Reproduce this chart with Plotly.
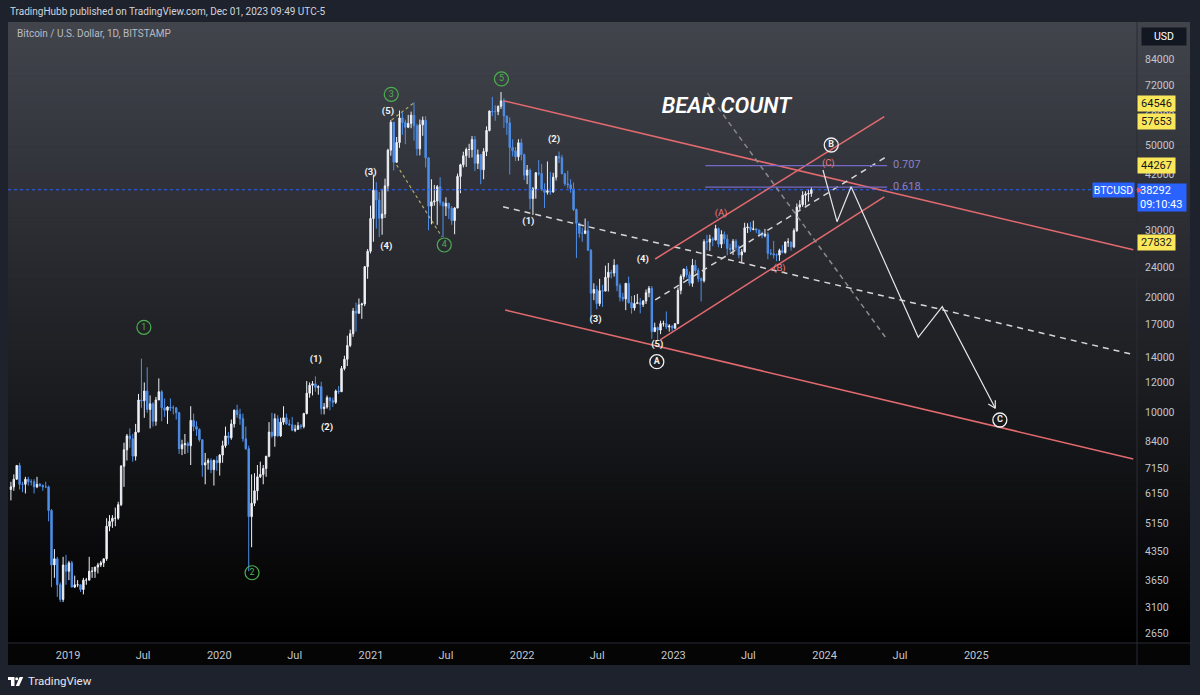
import numpy as np
import pandas as pd
import plotly.graph_objects as go

# ---------------- data (weekly candles) ----------------
week_center_start = "2018-08-16"
first_open = 6300

close_2018 = [6400, 6700, 7280, 6500, 6500, 6700, 6600, 6600, 6400, 6500, 6450, 6400, 6400, 5550, 4000, 4150, 3550, 3250, 4000, 3850, 4050]
high_2018 = [6600, 6900, 7300, 7400, 6600, 6800, 6800, 6700, 6700, 6800, 6550, 6500, 6600, 6450, 5600, 4400, 4200, 3600, 4200, 4250, 4100]
low_2018 = [5900, 6250, 6700, 6300, 6200, 6150, 6450, 6450, 6150, 6350, 6400, 6250, 6350, 5200, 3500, 3700, 3300, 3200, 3200, 3550, 3650]

close_2019 = [3500, 3550, 3550, 3450, 3650, 3650, 3850, 3850, 3950, 4000, 4050, 4150, 5050, 5200, 5300, 5300, 5750, 7250, 8000, 8700,
              8550, 7700, 8900, 10800, 10750, 11400, 10200, 10550, 9500, 10800, 11350, 10300, 10150, 10350, 10300, 10300, 10000, 8050, 8250, 8300,
              8200, 9550, 9200, 9050, 8500, 7300, 7400, 7500, 7100, 7500, 7400, 7750]
high_2019 = [4100, 3750, 3650, 3550, 3700, 3700, 4200, 3950, 3950, 4050, 4100, 4150, 5300, 5400, 5400, 5650, 5850, 7300, 8350, 8800,
             9100, 8800, 9350, 11200, 13850, 12000, 13150, 11100, 10650, 11000, 12300, 11450, 10900, 10400, 10900, 10450, 10350, 10050, 8500, 8800,
             8400, 10400, 9950, 9500, 9100, 8500, 7850, 7600, 7600, 7550, 7700, 7800]
low_2019 = [3500, 3480, 3500, 3400, 3350, 3550, 3650, 3700, 3700, 3800, 3950, 3950, 4100, 4900, 5000, 5050, 5250, 5700, 6400, 7500,
            8100, 7450, 7500, 8900, 10300, 9700, 10000, 9100, 9200, 9250, 10800, 9500, 9750, 9350, 10100, 9900, 9600, 7800, 7750, 7800,
            7850, 7300, 8950, 8700, 8400, 6800, 6500, 7100, 6950, 6450, 7050, 6850]

close_2020 = [8200, 8700, 8600, 9350, 10150, 9900, 9650, 8550, 8050, 5350, 5800, 6250, 6800, 6900, 7150, 7700, 8900, 8700, 9650, 8700,
              9450, 9700, 9350, 9300, 9000, 9050, 9250, 9200, 9950, 11250, 11800, 11900, 11650, 11700, 10250, 10350, 10950, 10750, 10650, 11400,
              11350, 13050, 13800, 15000, 16100, 18450, 18200, 19150, 19250, 24100, 26450, 32200]
high_2020 = [8450, 9200, 8900, 9600, 10200, 10500, 10250, 9950, 9200, 8200, 6900, 6950, 7300, 7450, 7300, 7700, 9450, 10000, 9950, 9850,
             9700, 10400, 9950, 9600, 9750, 9300, 9450, 9350, 10000, 12100, 12000, 12100, 12450, 11800, 12050, 10600, 11100, 10950, 10950, 11500,
             11750, 13250, 14100, 15900, 16500, 18800, 19400, 19900, 19400, 24200, 26800, 34800]
low_2020 = [7400, 8100, 8250, 8500, 9150, 9700, 9300, 8400, 8000, 3850, 4450, 5700, 5900, 6750, 6500, 6800, 7650, 8600, 8150, 8650,
            8650, 9300, 9300, 9250, 8950, 8900, 9050, 9050, 9100, 9900, 10950, 11100, 11350, 11150, 9900, 9900, 10250, 10150, 10350, 10550,
            11200, 11350, 12900, 13250, 14850, 15800, 16300, 18200, 17600, 19000, 22400, 26100]

close_2021 = [38200, 36000, 32250, 33100, 39200, 48600, 57500, 45200, 50900, 59000, 57400, 55800, 57100, 60000, 56200, 49000, 56600, 58200, 46400, 34700,
              35600, 35800, 39000, 35500, 34700, 35300, 34250, 31800, 34300, 41500, 44500, 47000, 48800, 48800, 51800, 44900, 47300, 43200, 48200, 54700,
              61500, 61300, 61300, 63300, 65400, 59700, 57300, 49400, 48400, 46700, 50800, 47300]
high_2021 = [41950, 40100, 37800, 38500, 40950, 49000, 58300, 57500, 52600, 61700, 61000, 58400, 60100, 61300, 64850, 57000, 58450, 59500, 59600, 46600,
             40800, 39400, 39400, 41300, 35700, 36600, 35400, 34700, 34500, 42200, 44800, 48150, 49350, 50500, 52900, 52950, 48800, 47400, 49200, 56100,
             61700, 67000, 63700, 63600, 69000, 66400, 59800, 59200, 51900, 49500, 51900, 52100]
low_2021 = [28000, 30300, 28800, 29200, 32300, 37950, 47000, 43000, 45000, 49300, 53300, 50400, 55500, 55450, 51500, 47000, 47100, 53000, 43800, 30000,
            31100, 34800, 31000, 34800, 28800, 32700, 32100, 31000, 29300, 34300, 37500, 43800, 43950, 46400, 46500, 42900, 43400, 39600, 40800, 46900,
            54400, 59700, 58000, 60000, 62300, 55600, 53300, 42000, 46800, 45500, 45600, 45700]

close_2022 = [41800, 43100, 36300, 38500, 42400, 42200, 38400, 37700, 38050, 37800, 41300, 46800, 46400, 42150, 39700, 39450, 38500, 34000, 31300, 29450,
              29450, 29900, 26600, 20550, 21000, 19300, 20850, 20800, 22600, 23300, 23200, 24300, 21500, 20050, 19850, 21800, 19400, 18800, 19300, 19400,
              19200, 19600, 20600, 21150, 16300, 16700, 16450, 17100, 17100, 16750, 16850, 16650]
high_2022 = [47600, 44450, 43500, 38900, 42600, 45800, 44750, 39800, 45400, 42600, 42400, 47000, 48200, 47200, 42400, 42950, 40800, 40000, 34200, 31400,
             30500, 32200, 31700, 26800, 21800, 21500, 22400, 21600, 24250, 24650, 23650, 25200, 24450, 21800, 20600, 21800, 22700, 20200, 20300, 20450,
             19950, 19700, 21000, 21450, 21450, 17200, 16800, 17400, 17400, 18400, 17050, 16950]
low_2022 = [40600, 39600, 34000, 32900, 36300, 41700, 38000, 34300, 37200, 37150, 37600, 40500, 45000, 42100, 39200, 38600, 37600, 33700, 25400, 28700,
            28000, 29300, 26500, 17600, 19700, 18650, 19000, 18900, 20800, 20750, 22450, 22700, 20800, 19550, 19550, 18550, 19300, 18150, 18500, 19300,
            18200, 18900, 19250, 20050, 15600, 16300, 15450, 16050, 16800, 16550, 16300, 16350]

close_2023 = [17100, 20900, 22700, 23750, 22950, 21800, 24300, 23550, 22400, 22150, 28000, 27950, 28450, 28300, 30300, 27600, 29250, 28450, 26900, 26750,
              28100, 27100, 25850, 26350, 30450, 30600, 30150, 30250, 30050, 29300, 29050, 29300, 26100, 26050, 25850, 25850, 26550, 26250, 27950, 27950,
              27150, 29950, 34500, 35000, 37050, 37350, 37450, 38292]
high_2023 = [17150, 21250, 23000, 23800, 24200, 23400, 25250, 25100, 23900, 22600, 28400, 29200, 29200, 28800, 31000, 30500, 30000, 29800, 29250, 27650,
             28450, 28450, 27400, 26800, 31400, 31300, 31500, 31800, 30400, 30100, 29750, 30250, 29650, 26800, 28150, 26100, 26850, 27450, 28050, 28600,
             28000, 30350, 35250, 35950, 37950, 37950, 38400, 38950]
low_2023 = [16550, 17100, 20400, 22300, 22550, 21450, 21350, 23150, 21950, 19550, 21900, 26600, 26500, 27250, 28200, 27100, 26950, 27650, 25800, 26350,
            25850, 26550, 25350, 24800, 26250, 29500, 29700, 30000, 29500, 28850, 28600, 28750, 25200, 25800, 25300, 24900, 24950, 26100, 26050, 27150,
            26550, 26950, 29700, 33950, 34550, 34800, 35650, 36700]

last_price = 38292
last_price_time = "09:10:43"

# price-axis tick labels and x-axis tick labels
y_tickvals = [84000, 72000, 60000, 50000, 42000, 30000, 24000, 20000, 17000, 14000, 12000, 10000,
              8400, 7150, 6150, 5150, 4350, 3650, 3100, 2650]
x_tickvals = ["2019-01-01", "2019-07-01", "2020-01-01", "2020-07-01", "2021-01-01", "2021-07-01", "2022-01-01",
              "2022-07-01", "2023-01-01", "2023-07-01", "2024-01-01", "2024-07-01", "2025-01-01"]
x_ticktext = ["2019", "Jul", "2020", "Jul", "2021", "Jul", "2022", "Jul", "2023", "Jul", "2024", "Jul", "2025"]
axis_labels = [64546, 57653, 44267, 27832]

# ---------------- drawings (date, price) ----------------
down_upper_dates, down_upper_prices = ["2021-11-16", "2026-01-15"], [65470, 26700]
down_lower_dates, down_lower_prices = ["2021-11-21", "2026-01-15"], [18565, 7570]
down_mid_dates, down_mid_prices = ["2021-11-16", "2026-01-10"], [34560, 14240]
up_upper_dates, up_upper_prices = ["2022-11-18", "2024-05-24"], [25240, 59460]
up_lower_dates, up_lower_prices = ["2022-11-30", "2024-05-24"], [15500, 36660]
up_mid_dates, up_mid_prices = ["2022-11-18", "2024-05-28"], [19720, 46650]
steep_dates, steep_prices = ["2023-03-24", "2024-05-28"], [68580, 15690]
fib_dates = ["2023-03-19", "2024-05-31"]
fib_levels = [44267, 38900]
fib_names = ["0.707", "0.618"]
fib_label_date = "2024-06-14"
path_dates = ["2023-12-28", "2024-01-31", "2024-03-05", "2024-08-14", "2024-10-11", "2025-02-16"]
path_prices = [43130, 31600, 39000, 15750, 18940, 10270]
arrow_dates = ["2025-01-30", "2025-02-16", "2025-02-16"]
arrow_prices = [10540, 10270, 10780]
olive1_dates, olive1_prices = ["2021-03-04", "2021-06-21"], [44450, 28870]
olive2_dates, olive2_prices = ["2021-02-20", "2021-04-13"], [58300, 64450]

green_dates = ["2019-07-03", "2020-03-20", "2021-02-19", "2021-06-27", "2021-11-12"]
green_prices = [16730, 3816, 68040, 27460, 74620]
green_text = ["1", "2", "3", "4", "5"]
sub_dates = ["2020-08-21", "2020-09-17", "2020-12-31", "2021-02-07", "2021-02-11",
             "2022-01-16", "2022-03-19", "2022-06-27", "2022-10-19", "2022-11-23"]
sub_prices = [13800, 9140, 42430, 27190, 61160, 31600, 51680, 17480, 25190, 15040]
sub_text = ["(1)", "(2)", "(3)", "(4)", "(5)", "(1)", "(2)", "(3)", "(4)", "(5)"]
abc_dates = ["2022-11-22", "2024-01-17", "2025-02-27"]
abc_prices = [13600, 50140, 9574]
abc_text = ["A", "B", "C"]
red_dates = ["2023-04-26", "2023-09-14", "2024-01-10"]
red_prices = [33100, 23870, 44900]
red_text = ["(A)", "(B)", "(C)"]
title_date, title_price = "2023-05-09", 62910

# ---------------- build ----------------
closes = close_2018 + close_2019 + close_2020 + close_2021 + close_2022 + close_2023
highs = high_2018 + high_2019 + high_2020 + high_2021 + high_2022 + high_2023
lows = low_2018 + low_2019 + low_2020 + low_2021 + low_2022 + low_2023
opens = [first_open] + closes[:-1]
dates = pd.date_range(week_center_start, periods=len(closes), freq="7D")

FONT = "Roboto, 'Open Sans', sans-serif"
UP = "#eef1f7"
DOWN = "#4f8fe8"
RED = "#e26a6f"
GREEN = "#4caf50"
TICK = "#c3c6ce"

L, R, T, B = 8, 1137, 22, 643
X_RANGE = ["2018-08-09", "2026-01-24"]
Y_RANGE = [3.3979, 5.0218]


def pxx(px):
    return (px - L) / (R - L)


def pxy(py):
    return (B - py) / (B - T)


fig = go.Figure()

fig.add_trace(go.Candlestick(
    x=dates, open=opens, high=highs, low=lows, close=closes,
    increasing=dict(line=dict(color=UP, width=1), fillcolor=UP),
    decreasing=dict(line=dict(color=DOWN, width=1), fillcolor=DOWN),
    whiskerwidth=0, hoverinfo="skip", showlegend=False))


def add_line(xs, ys, color, width=1.4, dash="solid"):
    fig.add_trace(go.Scatter(x=xs, y=ys, mode="lines", line=dict(color=color, width=width, dash=dash),
                             hoverinfo="skip", showlegend=False))


# current price dotted line
add_line(X_RANGE, [last_price, last_price], "#2962ff", 1, "dot")
add_line(olive1_dates, olive1_prices, "rgba(200,192,110,0.85)", 1.2, "dot")
add_line(olive2_dates, olive2_prices, "rgba(200,192,110,0.85)", 1.2, "dot")
add_line(down_upper_dates, down_upper_prices, RED, 1.5)
add_line(down_lower_dates, down_lower_prices, RED, 1.5)
add_line(down_mid_dates, down_mid_prices, "#d6d6d6", 1.5, "6px,5px")
add_line(up_upper_dates, up_upper_prices, RED, 1.5)
add_line(up_lower_dates, up_lower_prices, RED, 1.5)
add_line(up_mid_dates, up_mid_prices, "#d6d6d6", 1.5, "6px,5px")
add_line(steep_dates, steep_prices, "#8a8a8a", 1.5, "5px,4px")
for lvl in fib_levels:
    add_line(fib_dates, [lvl, lvl], "#7468c8", 1.3)
add_line(path_dates, path_prices, "#e6e6e6", 1.2)
add_line(arrow_dates, arrow_prices, "#e6e6e6", 1.2)

fig.add_trace(go.Scatter(x=[fib_label_date] * 2, y=fib_levels, mode="text", text=fib_names,
                         textposition="middle right", textfont=dict(family=FONT, size=11, color="#8b80c9"),
                         hoverinfo="skip", showlegend=False))

fig.add_trace(go.Scatter(x=green_dates, y=green_prices, mode="markers+text", text=green_text,
                         textposition="middle center",
                         marker=dict(symbol="circle-open", size=14, color=GREEN, line=dict(width=1.2, color=GREEN)),
                         textfont=dict(family=FONT, size=9, color=GREEN),
                         hoverinfo="skip", showlegend=False))
fig.add_trace(go.Scatter(x=abc_dates, y=abc_prices, mode="markers+text", text=abc_text,
                         textposition="middle center",
                         marker=dict(symbol="circle-open", size=14, color="#f0f0f0", line=dict(width=1.3, color="#f0f0f0")),
                         textfont=dict(family=FONT, size=9, color="#f0f0f0", weight="bold"),
                         hoverinfo="skip", showlegend=False))
fig.add_trace(go.Scatter(x=sub_dates, y=sub_prices, mode="text", text=sub_text, textposition="middle center",
                         textfont=dict(family=FONT, size=9.5, color="#f2f2f2", weight="bold"),
                         hoverinfo="skip", showlegend=False))
fig.add_trace(go.Scatter(x=red_dates, y=red_prices, mode="text", text=red_text, textposition="middle center",
                         textfont=dict(family=FONT, size=9.5, color="#ef7a7e"),
                         hoverinfo="skip", showlegend=False))
fig.add_trace(go.Scatter(x=[title_date], y=[title_price], mode="text", text=["BEAR COUNT"],
                         textposition="middle center",
                         textfont=dict(family=FONT, size=22, color="#ffffff", weight=600, style="italic"),
                         hoverinfo="skip", showlegend=False))

# ---------------- background, frames ----------------
shapes = []
top_c = np.array([66, 68, 77])
bot_c = np.array([0, 0, 0])
N = 70
for i in range(N):
    y0 = T + i * (B - T) / N
    y1 = T + (i + 1) * (B - T) / N + 0.6
    c = top_c * (1 - (i + 0.5) / N) + bot_c * ((i + 0.5) / N)
    shapes.append(dict(type="rect", xref="paper", yref="paper", x0=pxx(8), x1=pxx(1190),
                       y0=pxy(min(y1, B)), y1=pxy(y0), line=dict(width=0),
                       fillcolor="rgb(%d,%d,%d)" % tuple(c.round().astype(int)), layer="below"))
shapes.append(dict(type="rect", xref="paper", yref="paper", x0=pxx(8), x1=pxx(1190), y0=pxy(665), y1=pxy(643),
                   line=dict(width=0), fillcolor="#050505", layer="below"))
shapes.append(dict(type="line", xref="paper", yref="paper", x0=pxx(1137), x1=pxx(1137), y0=pxy(665), y1=pxy(22),
                   line=dict(color="#2a2d36", width=1), layer="below"))
shapes.append(dict(type="line", xref="paper", yref="paper", x0=pxx(8), x1=pxx(1190), y0=pxy(643), y1=pxy(643),
                   line=dict(color="#2a2d36", width=1), layer="below"))
# TradingView logo
shapes.append(dict(type="rect", xref="paper", yref="paper", x0=pxx(8), x1=pxx(14.5), y0=pxy(680), y1=pxy(677),
                   line=dict(width=0), fillcolor="#ffffff"))
shapes.append(dict(type="rect", xref="paper", yref="paper", x0=pxx(11), x1=pxx(14.5), y0=pxy(686), y1=pxy(680),
                   line=dict(width=0), fillcolor="#ffffff"))
shapes.append(dict(type="circle", xref="paper", yref="paper", x0=pxx(15.2), x1=pxx(18.2), y0=pxy(680.2), y1=pxy(677.2),
                   line=dict(width=0), fillcolor="#ffffff"))
shapes.append(dict(type="path", xref="paper", yref="paper",
                   path="M %f %f L %f %f L %f %f L %f %f Z" % (pxx(19.6), pxy(677), pxx(23.2), pxy(677),
                                                              pxx(19.2), pxy(686), pxx(15.8), pxy(686)),
                   line=dict(width=0), fillcolor="#ffffff"))

ann = []
ann.append(dict(xref="paper", yref="paper", x=pxx(8), y=pxy(12), xanchor="left", yanchor="middle", showarrow=False,
                text="TradingHubb published on TradingView.com, Dec 01, 2023 09:49 UTC-5",
                font=dict(family=FONT, size=10, color="#d1d4dc")))
ann.append(dict(xref="paper", yref="paper", x=pxx(15), y=pxy(34), xanchor="left", yanchor="middle", showarrow=False,
                text="Bitcoin / U.S. Dollar, 1D, BITSTAMP", font=dict(family=FONT, size=10, color="#b8bbc4")))
ann.append(dict(xref="paper", yref="paper", x=pxx(26), y=pxy(681), xanchor="left", yanchor="middle", showarrow=False,
                text="TradingView", font=dict(family=FONT, size=11.5, color="#e6e8ee")))
ann.append(dict(xref="paper", yref="paper", x=pxx(1141), y=pxy(27), xanchor="left", yanchor="top", showarrow=False,
                text="USD", font=dict(family=FONT, size=10.5, color="#ffffff"), bgcolor="#131722",
                width=42, height=15, borderpad=1))
for v in axis_labels:
    ann.append(dict(xref="paper", yref="y", x=1.0, y=np.log10(v), xanchor="left", yanchor="middle", showarrow=False,
                    text=str(v), font=dict(family=FONT, size=11, color="#131722"), bgcolor="#fbe75a",
                    width=35, height=13, borderpad=1))
ann.append(dict(xref="paper", yref="y", x=1.0, y=np.log10(last_price), xanchor="right", yanchor="middle",
                xshift=-2, showarrow=False, text="BTCUSD", font=dict(family=FONT, size=10.5, color="#ffffff"),
                bgcolor="#2962ff", width=39, height=12, borderpad=1))
ann.append(dict(xref="paper", yref="y", x=1.0, y=np.log10(last_price), xanchor="left", yanchor="top",
                yshift=7, showarrow=False, text="%d<br>%s" % (last_price, last_price_time), align="left",
                font=dict(family=FONT, size=11, color="#ffffff"), bgcolor="#2962ff", width=44, height=23,
                borderpad=2))
ann.append(dict(xref="paper", yref="y", x=1.0, y=np.log10(last_price), xanchor="left", yanchor="middle",
                xshift=-2, showarrow=False, text="▶", font=dict(size=7, color="#f7525f")))

fig.update_layout(
    width=1200, height=695,
    margin=dict(l=L, r=1200 - R, t=T, b=695 - B),
    paper_bgcolor="#1e222d", plot_bgcolor="rgba(0,0,0,0)",
    showlegend=False, shapes=shapes, annotations=ann,
    font=dict(family=FONT, color=TICK),
    xaxis=dict(type="date", range=X_RANGE, showgrid=False, zeroline=False, showline=False,
               tickvals=x_tickvals, ticktext=x_ticktext, ticks="", ticklabelstandoff=4,
               tickfont=dict(family=FONT, size=11, color=TICK), rangeslider=dict(visible=False), fixedrange=True),
    yaxis=dict(type="log", range=Y_RANGE, side="right", showgrid=False, zeroline=False, showline=False,
               tickvals=y_tickvals, ticktext=[str(v) for v in y_tickvals], ticks="", ticklabelstandoff=7,
               tickfont=dict(family=FONT, size=10.5, color=TICK), fixedrange=True),
)

fig.write_html("out.html", config={"displayModeBar": False})
